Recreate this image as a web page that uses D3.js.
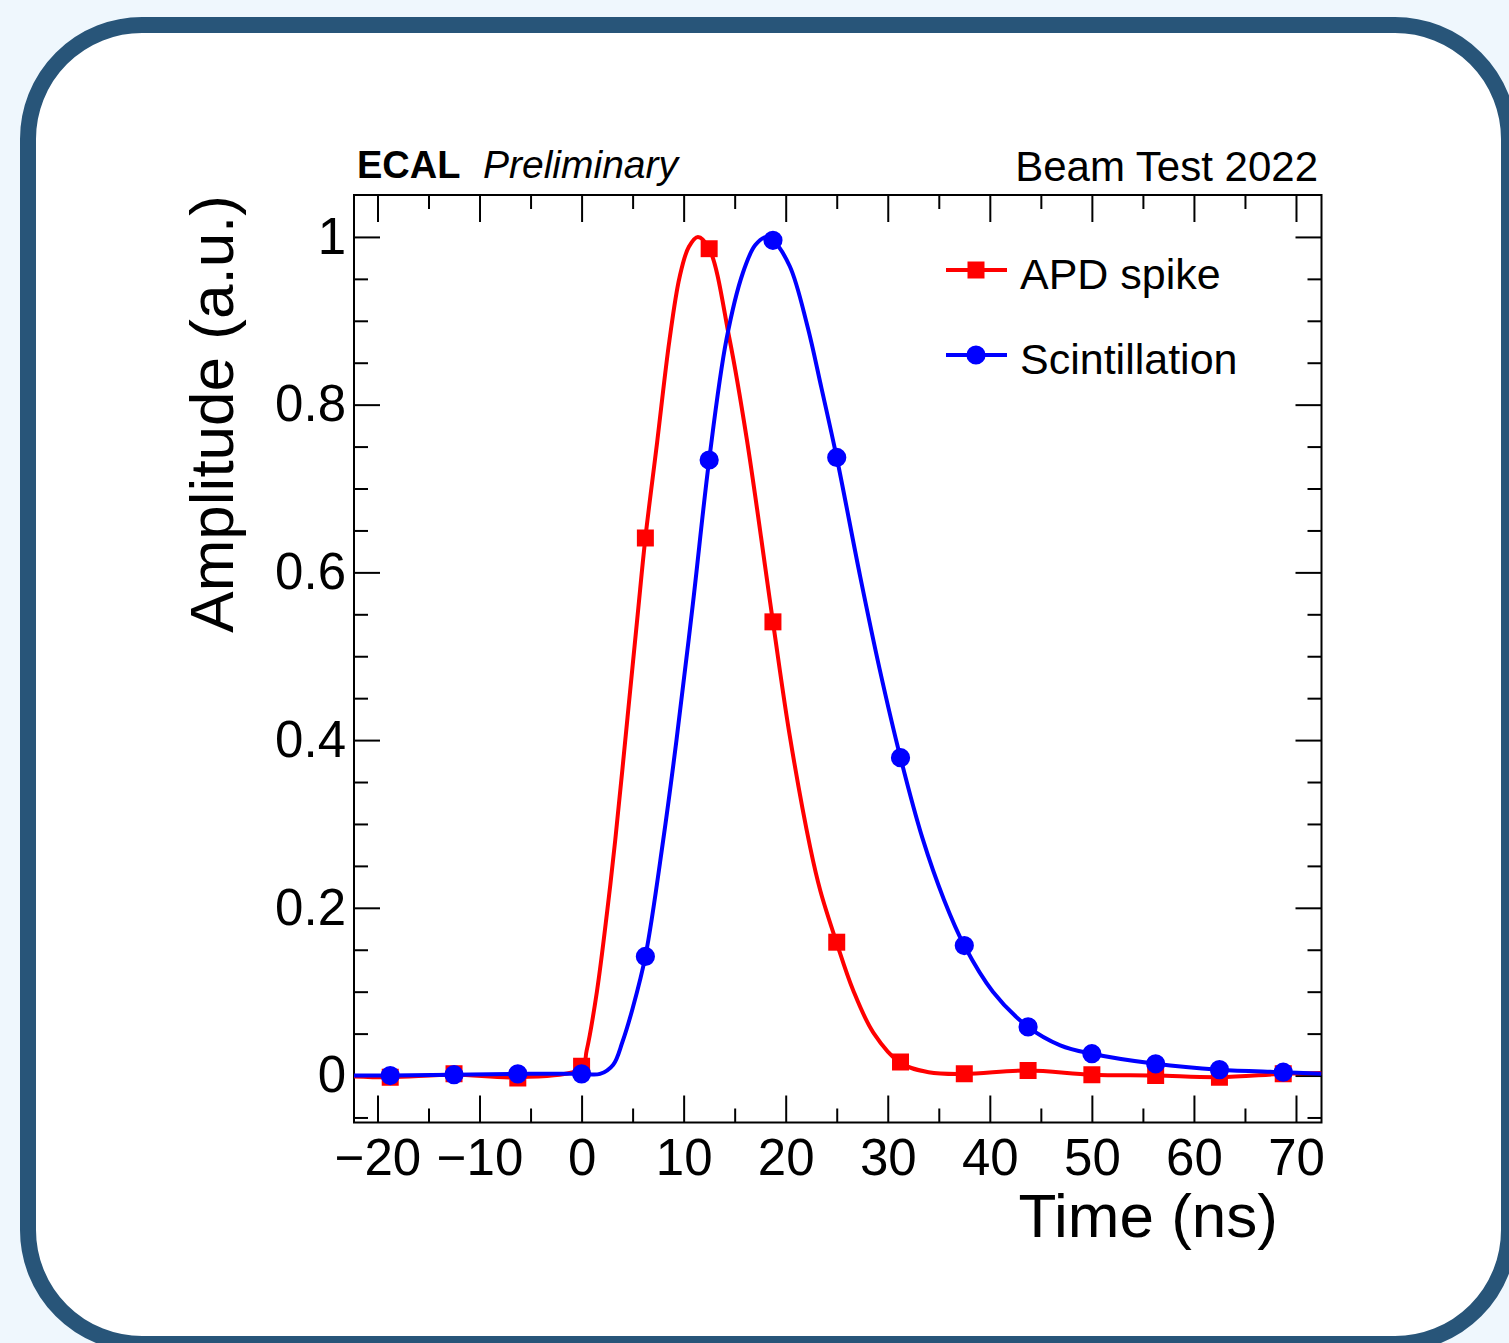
<!DOCTYPE html>
<html>
<head>
<meta charset="utf-8">
<script src="https://cdn.jsdelivr.net/npm/d3@7"></script>
<style>
  body { margin: 0; background: #eff7fd; }
  svg { display: block; }
  text { font-family: "Liberation Sans", Arial, Helvetica, sans-serif; fill: #000; }
</style>
</head>
<body>
<script>
  // sampling times (ns), 6.25 ns apart -> markers
  const times = [-18.75, -12.5, -6.25, 0, 6.25, 12.5, 18.75, 25, 31.25, 37.5, 43.75, 50, 56.25, 62.5, 68.75];
  const apdSpike = [-0.002, 0.002, -0.003, 0.011, 0.641, 0.986, 0.541, 0.159, 0.016, 0.002, 0.006, 0.001, 0.000, -0.002, 0.002];
  const scintillation = [0.000, 0.001, 0.002, 0.002, 0.142, 0.734, 0.996, 0.737, 0.379, 0.155, 0.058, 0.026, 0.014, 0.007, 0.004];

  // pulse shape curves
  const apdCurveT = [-22.3, -18.75, -12.5, -6.25, 0, 0.5, 1.5, 2.5, 3.3, 4.5, 5.5, 6.25, 7.4, 8.6, 9.6, 10.5, 11.4, 12.5, 14.5, 16.2, 18.75, 20.4, 22.4, 23.4, 25, 26.6, 28.6, 31.25, 34, 37.5, 43.75, 50, 56.25, 62.5, 68.75, 72.5];
  const apdCurveV = [-0.001, -0.002, 0.001, -0.002, 0.009, 0.03, 0.10, 0.195, 0.281, 0.427, 0.55, 0.641, 0.755, 0.876, 0.952, 0.988, 1.0, 0.986, 0.878, 0.758, 0.541, 0.405, 0.272, 0.220, 0.158, 0.102, 0.051, 0.015, 0.004, 0.002, 0.006, 0.001, 0.000, -0.002, 0.002, 0.003];
  const scintCurveT = [-22.3, -18.75, -12.5, -6.25, 0, 1.8, 3.1, 4.0, 5.0, 6.25, 8.0, 9.3, 10.9, 12.5, 14.2, 15.8, 17.0, 18.1, 18.75, 20.4, 22.1, 23.5, 25, 27.3, 29.2, 31.25, 33.4, 35.5, 37.5, 40.3, 43.75, 46.9, 50, 56.25, 62.5, 68.75, 72.5];
  const scintCurveV = [0.000, 0.000, 0.001, 0.002, 0.002, 0.002, 0.013, 0.040, 0.080, 0.142, 0.281, 0.40, 0.562, 0.734, 0.878, 0.957, 0.99, 1.0, 0.996, 0.965, 0.895, 0.82, 0.737, 0.595, 0.485, 0.379, 0.283, 0.21, 0.155, 0.10, 0.058, 0.036, 0.026, 0.014, 0.007, 0.004, 0.002];

  const xMajor = [-20, -10, 0, 10, 20, 30, 40, 50, 60, 70];
  const xMinor = [-15, -5, 5, 15, 25, 35, 45, 55, 65];
  const yMajor = [0, 0.2, 0.4, 0.6, 0.8, 1];
  const yMinor = [-0.05, 0.05, 0.1, 0.15, 0.25, 0.3, 0.35, 0.45, 0.5, 0.55, 0.65, 0.7, 0.75, 0.85, 0.9, 0.95];

  const width = 1509;
  const height = 1343;

  const svg = d3.select('body')
          .append('svg')
          .attr('width', width)
          .attr('height', height);

  // rounded card behind the plot
  svg.append('rect')
          .attr('x', 28).attr('y', 25)
          .attr('width', 1481).attr('height', 1319)
          .attr('rx', 114).attr('ry', 114)
          .attr('fill', '#ffffff')
          .attr('stroke', '#285579')
          .attr('stroke-width', 16);

  const frameL = 354, frameR = 1321.5, frameT = 195, frameB = 1122.5;

  const x = d3.scaleLinear().domain([-22.3, 72.5]).range([frameL, frameR]);
  const y = d3.scaleLinear().domain([-0.056, 1.05]).range([frameB, frameT]);

  svg.append('clipPath').attr('id', 'frame')
          .append('rect')
          .attr('x', frameL).attr('y', frameT)
          .attr('width', frameR - frameL).attr('height', frameB - frameT);

  // axes, ticks pointing inward like ROOT
  function styleAxis(g) {
    g.select('.domain').remove();
    g.selectAll('.tick line').attr('stroke', '#000').attr('stroke-width', 2);
  }
  const labelFont = '"Liberation Sans", Arial, sans-serif';

  svg.append('g')
          .attr('transform', `translate(0,${frameB})`)
          .call(d3.axisBottom(x).tickValues(xMajor).tickSize(-27).tickPadding(16))
          .call(styleAxis)
          .call(g => g.selectAll('text').attr('font-size', 51).attr('font-family', labelFont));
  svg.append('g')
          .attr('transform', `translate(0,${frameB})`)
          .call(d3.axisBottom(x).tickValues(xMinor).tickSize(-14).tickFormat(''))
          .call(styleAxis);
  svg.append('g')
          .attr('transform', `translate(0,${frameT})`)
          .call(d3.axisTop(x).tickValues(xMajor).tickSize(-27).tickFormat(''))
          .call(styleAxis);
  svg.append('g')
          .attr('transform', `translate(0,${frameT})`)
          .call(d3.axisTop(x).tickValues(xMinor).tickSize(-14).tickFormat(''))
          .call(styleAxis);

  svg.append('g')
          .attr('transform', `translate(${frameL},0)`)
          .call(d3.axisLeft(y).tickValues(yMajor).tickSize(-26).tickPadding(8).tickFormat(d3.format('~g')))
          .call(styleAxis)
          .call(g => g.selectAll('text').attr('font-size', 51).attr('font-family', labelFont));
  svg.append('g')
          .attr('transform', `translate(${frameL},0)`)
          .call(d3.axisLeft(y).tickValues(yMinor).tickSize(-14).tickFormat(''))
          .call(styleAxis);
  svg.append('g')
          .attr('transform', `translate(${frameR},0)`)
          .call(d3.axisRight(y).tickValues(yMajor).tickSize(-26).tickFormat(''))
          .call(styleAxis);
  svg.append('g')
          .attr('transform', `translate(${frameR},0)`)
          .call(d3.axisRight(y).tickValues(yMinor).tickSize(-14).tickFormat(''))
          .call(styleAxis);

  svg.append('rect')
          .attr('x', frameL).attr('y', frameT)
          .attr('width', frameR - frameL).attr('height', frameB - frameT)
          .attr('fill', 'none')
          .attr('stroke', '#000')
          .attr('stroke-width', 2);

  // curves and markers
  const series = [
    { name: 'APD spike', color: '#ff0000', shape: d3.symbolSquare, size: 289,
      values: apdSpike, curveT: apdCurveT, curveV: apdCurveV },
    { name: 'Scintillation', color: '#0000ff', shape: d3.symbolCircle, size: 290,
      values: scintillation, curveT: scintCurveT, curveV: scintCurveV }
  ];

  const line = d3.line()
          .x(d => x(d[0]))
          .y(d => y(d[1]))
          .curve(d3.curveCatmullRom.alpha(0.5));

  const plot = svg.append('g').attr('clip-path', 'url(#frame)');

  series.forEach(s => {
    const curvePts = s.curveT.map((t, i) => [t, s.curveV[i]]);
    plot.append('path')
            .attr('d', line(curvePts))
            .attr('fill', 'none')
            .attr('stroke', s.color)
            .attr('stroke-width', 4);
  });

  series.forEach(s => {
    const pts = times.map((t, i) => [t, s.values[i]]);
    plot.selectAll(null)
            .data(pts)
            .enter()
            .append('path')
            .attr('transform', d => `translate(${x(d[0])},${y(d[1])})`)
            .attr('d', d3.symbol().type(s.shape).size(s.size))
            .attr('fill', s.color);
  });

  // legend
  const legend = svg.append('g');
  series.forEach((s, i) => {
    const ly = 270 + i * 85;
    legend.append('line')
            .attr('x1', 946).attr('x2', 1007)
            .attr('y1', ly).attr('y2', ly)
            .attr('stroke', s.color)
            .attr('stroke-width', 4);
    legend.append('path')
            .attr('transform', `translate(976,${ly})`)
            .attr('d', d3.symbol().type(s.shape).size(s.size))
            .attr('fill', s.color);
    legend.append('text')
            .attr('x', 1020).attr('y', ly + 19)
            .attr('font-size', 43)
            .text(s.name);
  });

  // titles and labels
  svg.append('text')
          .attr('x', 357).attr('y', 178)
          .attr('font-size', 38)
          .attr('font-weight', 'bold')
          .text('ECAL');
  svg.append('text')
          .attr('x', 483).attr('y', 178)
          .attr('font-size', 39)
          .attr('font-style', 'italic')
          .text('Preliminary');
  svg.append('text')
          .attr('x', 1318).attr('y', 181)
          .attr('font-size', 42)
          .attr('text-anchor', 'end')
          .text('Beam Test 2022');

  svg.append('text')
          .attr('x', 1278).attr('y', 1237)
          .attr('font-size', 62)
          .attr('text-anchor', 'end')
          .text('Time (ns)');
  svg.append('text')
          .attr('transform', 'translate(233,195) rotate(-90)')
          .attr('font-size', 62)
          .attr('text-anchor', 'end')
          .text('Amplitude (a.u.)');
</script>
</body>
</html>
